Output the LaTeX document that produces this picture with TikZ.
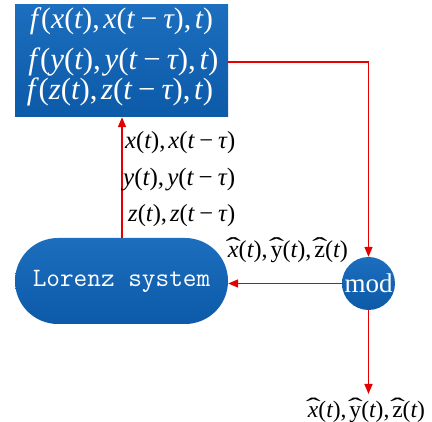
\documentclass[tikz,border=0pt]{standalone}
\usepackage{fontspec}
\newfontfamily\tms{Liberation Serif}
\usetikzlibrary{arrows.meta}
\definecolor{boxblue}{RGB}{18,98,176}
\definecolor{boxtop}{RGB}{28,110,190}
\definecolor{boxbot}{RGB}{12,90,168}
\definecolor{linered}{RGB}{228,0,0}
\newcommand\mi[1]{{\itshape #1}}
\newcommand\hatc[1]{\sbox0{#1}\rlap{\copy0}\makebox[\wd0]{\raisebox{0.12em}{\scalebox{1.9}[1]{\char"02C6}}}}
\newcommand\mns{\kern0.2em−\kern0.2em}
\newcommand\cm{,\kern0.12em}
\begin{document}
\begin{tikzpicture}[x=1pt,y=-1pt,
  bluebox/.style={top color=boxtop,bottom color=boxbot,draw=none,inner sep=0pt},
  redline/.style={draw=linered,line width=1.6pt},
  redarrow/.style={redline,-{Triangle[length=10pt,width=8pt]}},
  boxtext/.style={text=white,inner sep=0pt,font=\tms\fontsize{26}{30}\selectfont},
  lbl/.style={inner sep=0pt,font=\tms\fontsize{20}{24}\selectfont}]
\useasboundingbox (0,0) rectangle (432,422);
% top box
\node[bluebox,minimum width=213pt,minimum height=112pt] (fbox) at (121.5,61) {};
\node[boxtext] (f1) at (121.5,21) {\resizebox{183pt}{!}{\mi{f}\kern0.1em(\mi{x}(\mi{t})\cm\mi{x}(\mi{t}\mns\mi{τ})\cm\mi{t})}};
\node[boxtext] (f2) at (123.5,62) {\resizebox{190pt}{!}{\mi{f}\kern0.1em(\mi{y}(\mi{t})\cm\mi{y}(\mi{t}\mns\mi{τ})\cm\mi{t})}};
\node[boxtext] (f3) at (120,92) {\resizebox{186pt}{!}{\mi{f}\kern0.1em(\mi{z}(\mi{t})\cm\mi{z}(\mi{t}\mns\mi{τ})\cm\mi{t})}};
% Lorenz system
\node[bluebox,minimum width=213pt,minimum height=86pt,rounded corners=42.9pt,
  text=white,font=\fontsize{26.5}{30}\ttfamily] (lorenz) at (121.5,281) {Lorenz system};
% mod
\node[bluebox,circle,minimum size=53pt,text=white,font=\tms\fontsize{27}{30}\selectfont] (mod) at (368.5,283.5) {mod};
\coordinate (outend) at (368.5,394);
% connectors
\draw[redarrow] (fbox.east |- f2) -| (mod.north);
\draw[redarrow] (mod.west) -- (lorenz.east |- mod.west);
\draw[redarrow] (lorenz.north -| 122,0) -- (fbox.south -| 122,0);
\draw[redarrow] (mod.south) -- (outend);
% labels
\node[lbl,anchor=west] (l1) at (125,143) {\resizebox{110pt}{!}{\mi{x}(\mi{t})\cm\mi{x}(\mi{t}\mns\mi{τ})}};
\node[lbl,anchor=west] (l2) at (123,180) {\resizebox{112pt}{!}{\mi{y}(\mi{t})\cm\mi{y}(\mi{t}\mns\mi{τ})}};
\node[lbl,anchor=west] (l3) at (128,216) {\resizebox{107pt}{!}{\mi{z}(\mi{t})\cm\mi{z}(\mi{t}\mns\mi{τ})}};
\node[lbl] (h1) at (288,250) {\resizebox{120pt}{!}{\hatc{\mi{x}}(\mi{t})\cm\hatc{y}(\mi{t})\cm\hatc{z}(\mi{t})}};
\node[lbl] (h2) at (366.5,410) {\resizebox{117pt}{!}{\hatc{\mi{x}}(\mi{t})\cm\hatc{y}(\mi{t})\cm\hatc{z}(\mi{t})}};
\end{tikzpicture}
\end{document}
